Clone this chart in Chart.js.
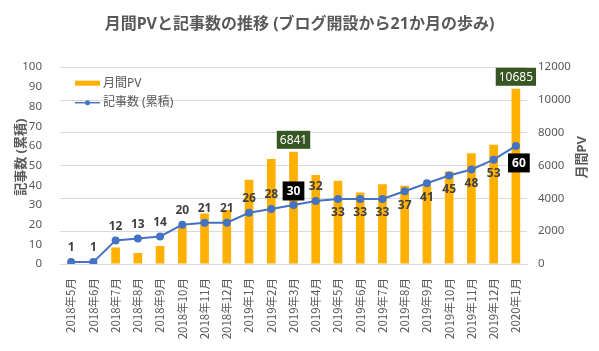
<!DOCTYPE html>
<html lang="ja">
<head>
<meta charset="utf-8">
<title>月間PVと記事数の推移</title>
<script src="https://cdn.jsdelivr.net/npm/chart.js@4.4.1/dist/chart.umd.min.js"></script>
<style>
  html, body { margin: 0; padding: 0; background: #fff; }
  #wrap { width: 599px; height: 351px; position: relative; }
</style>
</head>
<body>
<div id="wrap"><canvas id="chartPV"></canvas></div>
<script>
// ---- データ ----
const months = [
  '2018年5月', '2018年6月', '2018年7月', '2018年8月', '2018年9月', '2018年10月',
  '2018年11月', '2018年12月', '2019年1月', '2019年2月', '2019年3月', '2019年4月',
  '2019年5月', '2019年6月', '2019年7月', '2019年8月', '2019年9月', '2019年10月',
  '2019年11月', '2019年12月', '2020年1月'
];
const monthlyPV = [15, 40, 1010, 670, 1100, 2290, 3080, 3300, 5130, 6410, 6841, 5420,
                   5070, 4360, 4870, 4770, 4780, 5640, 6760, 7270, 10685];
const articleTotal = [1, 1, 12, 13, 14, 20, 21, 21, 26, 28, 30, 32,
                      33, 33, 33, 37, 41, 45, 48, 53, 60];
const milestones = [10, 20];            // 6841 / 10685 と 30 / 60 を強調
const leftTicks = [0, 10, 20, 30, 40, 50, 60, 70, 80, 90, 100];
const rightTicks = [0, 2000, 4000, 6000, 8000, 10000, 12000];

// ---- 表示設定 ----
const GRAY = '#595959';
const BAR_COLOR = '#FFB000';
const LINE_COLOR = '#4472C4';
const FONT = '"Noto Sans", "Noto Sans CJK JP", sans-serif';
const firstBelow = 12;                  // ここから線のラベルは点の下

Chart.defaults.font.family = FONT;
Chart.defaults.color = GRAY;

// 線・棒のデータラベル
const labelPlugin = {
  id: 'dataLabels',
  afterDatasetsDraw(chart) {
    const ctx = chart.ctx;
    const barMeta = chart.getDatasetMeta(0);
    const lineMeta = chart.getDatasetMeta(1);
    ctx.save();
    ctx.textAlign = 'center';
    ctx.textBaseline = 'middle';

    lineMeta.data.forEach((pt, i) => {
      const txt = String(articleTotal[i]);
      const boxed = milestones.includes(i);
      const below = i >= firstBelow;
      let y = below ? pt.y + 14 : pt.y - 14;
      if (boxed && below) y = pt.y + 17;
      ctx.font = 'bold 12px ' + FONT;
      if (boxed) {
        const w = ctx.measureText(txt).width + 8;
        ctx.fillStyle = '#000';
        ctx.fillRect(pt.x - w / 2 + (below ? 3 : 0), y - 9.5, w, 19);
        ctx.fillStyle = '#fff';
        ctx.fillText(txt, pt.x + (below ? 3 : 0), y + 0.5);
      } else {
        ctx.fillStyle = '#404040';
        ctx.fillText(txt, pt.x, y);
      }
    });

    milestones.forEach(i => {
      const bar = barMeta.data[i];
      const txt = String(monthlyPV[i]);
      ctx.font = '12px ' + FONT;
      const w = ctx.measureText(txt).width + 6;
      const y = bar.y - 12;
      ctx.fillStyle = '#375623';
      ctx.fillRect(bar.x - w / 2, y - 9, w, 18);
      ctx.fillStyle = '#fff';
      ctx.fillText(txt, bar.x, y + 0.5);
    });
    ctx.restore();
  }
};

// 凡例（グラフ内左上）と軸タイトル
const decorPlugin = {
  id: 'decor',
  afterDraw(chart) {
    const ctx = chart.ctx;
    const a = chart.chartArea;
    const lx = a.left + 15, ly1 = a.top + 16, ly2 = a.top + 35.5;
    ctx.save();
    ctx.fillStyle = BAR_COLOR;
    ctx.fillRect(lx, ly1 - 2.5, 25, 5);
    ctx.strokeStyle = LINE_COLOR;
    ctx.lineWidth = 1.5;
    ctx.beginPath();
    ctx.moveTo(lx, ly2);
    ctx.lineTo(lx + 25, ly2);
    ctx.stroke();
    ctx.fillStyle = LINE_COLOR;
    ctx.beginPath();
    ctx.arc(lx + 12.5, ly2, 2.5, 0, Math.PI * 2);
    ctx.fill();

    ctx.fillStyle = GRAY;
    ctx.font = '12px ' + FONT;
    ctx.textAlign = 'left';
    ctx.textBaseline = 'middle';
    ctx.fillText(chart.data.datasets[0].label, lx + 28, ly1);
    ctx.fillText(chart.data.datasets[1].label, lx + 28, ly2);

    ctx.font = 'bold 13px ' + FONT;
    ctx.textAlign = 'center';
    ctx.translate(21, a.top + 90);
    ctx.rotate(-Math.PI / 2);
    ctx.fillText('記事数 (累積)', 0, 0);
    ctx.rotate(Math.PI / 2);
    ctx.translate(chart.width - 17 - 21, 0);
    ctx.rotate(-Math.PI / 2);
    ctx.fillText('月間PV', 0, 0);
    ctx.restore();
  }
};

new Chart(document.getElementById('chartPV'), {
  data: {
    labels: months,
    datasets: [
      {
        type: 'bar',
        label: '月間PV',
        data: monthlyPV,
        yAxisID: 'y1',
        backgroundColor: BAR_COLOR,
        categoryPercentage: 1,
        barPercentage: 0.39,
        order: 2
      },
      {
        type: 'line',
        label: '記事数 (累積)',
        data: articleTotal,
        yAxisID: 'y',
        borderColor: LINE_COLOR,
        backgroundColor: LINE_COLOR,
        borderWidth: 2,
        pointRadius: 3,
        tension: 0,
        order: 1
      }
    ]
  },
  options: {
    responsive: true,
    maintainAspectRatio: false,
    animation: false,
    layout: { padding: 0 },
    plugins: {
      legend: { display: false },
      tooltip: { enabled: false },
      title: {
        display: true,
        text: '月間PVと記事数の推移 (ブログ開設から21か月の歩み)',
        color: GRAY,
        font: { size: 16, weight: 'bold', family: FONT },
        padding: { top: 15, bottom: 33 }
      }
    },
    scales: {
      x: {
        grid: { display: false },
        border: { color: '#D9D9D9' },
        ticks: {
          color: GRAY,
          font: { size: 11.5, family: '"Noto Sans CJK JP", sans-serif' },
          minRotation: 90,
          maxRotation: 90,
          autoSkip: false,
          padding: 6
        },
        afterFit: s => { s.height = 87; }
      },
      y: {
        position: 'left',
        min: 0,
        max: 100,
        grid: { display: false },
        border: { display: false },
        afterBuildTicks: s => { s.ticks = leftTicks.map(v => ({ value: v })); },
        ticks: { color: GRAY, font: { size: 11.5 }, padding: 10 },
        afterFit: s => { s.width = 60; }
      },
      y1: {
        position: 'right',
        min: 0,
        max: 12000,
        grid: { color: '#D9D9D9', drawTicks: false },
        border: { display: false },
        ticks: {
          stepSize: 1000,
          color: GRAY,
          font: { size: 11.5 },
          padding: 11,
          callback: v => rightTicks.includes(v) ? v : ''
        },
        afterFit: s => { s.width = 72; }
      }
    }
  },
  plugins: [labelPlugin, decorPlugin]
});
</script>
</body>
</html>
